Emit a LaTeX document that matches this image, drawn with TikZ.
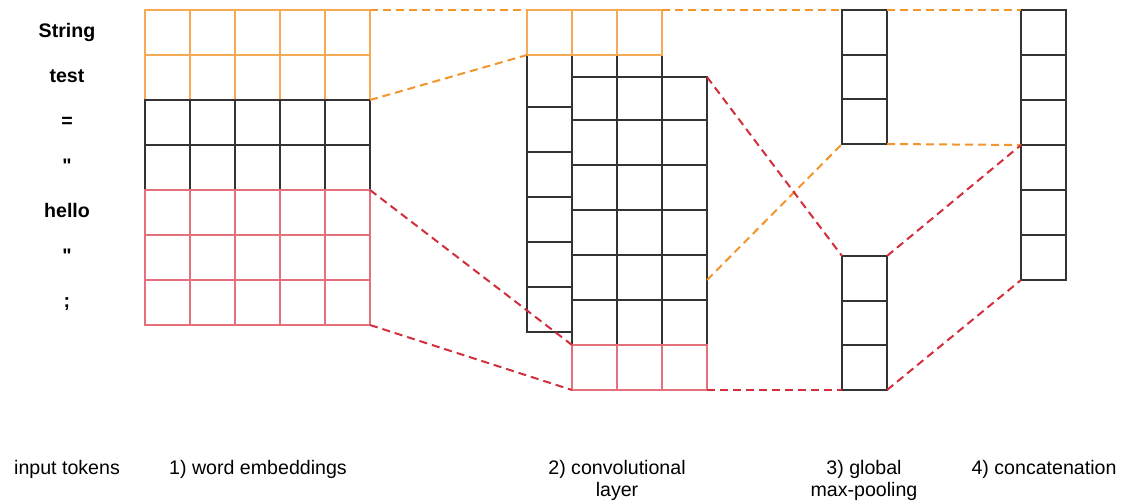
\documentclass[tikz,border=0pt]{standalone}
\usepackage{fontspec}
\setmainfont{Liberation Sans}[Ligatures=TeXOff]
\usetikzlibrary{calc}
\begin{document}
\begin{tikzpicture}[x=1pt,y=-1pt,
  ocell/.style={draw=embOrange,line width=1.2pt},
  rcell/.style={draw=embRed,line width=1.2pt},
  kcell/.style={draw=cellGray,line width=1.3pt},
  blk/.style={inner sep=0pt,outer sep=0pt,minimum width=#1,anchor=north west},
  olink/.style={draw=linkOrange,line width=2pt,dash pattern=on 8pt off 5pt},
  rlink/.style={draw=linkRed,line width=2pt,dash pattern=on 8pt off 5pt},
  token/.style={font=\fontsize{19.6}{23}\selectfont\bfseries,anchor=base},
  caption/.style={font=\fontsize{19.6}{22}\selectfont,align=center,anchor=base}]
\definecolor{embOrange}{HTML}{F6AA55}
\definecolor{embRed}{HTML}{E4707C}
\definecolor{cellGray}{HTML}{333333}
\definecolor{linkOrange}{HTML}{F2952C}
\definecolor{linkRed}{HTML}{D22E3C}
\useasboundingbox (0,0) rectangle (1123,501);

% input tokens
\foreach \t [count=\k from 0] in {String,test,=,",hello,",;}
  \node[token] (tok\k) at (67,{37+45*\k}) {\t};

% word embeddings: 5 x 7 grid
\node[blk=225pt,minimum height=90pt] (embO) at (145,10) {};
\node[blk=225pt,minimum height=90pt] (embK) at (145,100) {};
\node[blk=225pt,minimum height=135pt] (embR) at (145,190) {};
\foreach \i in {0,...,4}
  \foreach \j in {0,1}
    \draw[ocell] ({145+45*\i},{10+45*\j}) rectangle +(45,45);
\foreach \i in {0,...,4}
  \foreach \j in {2,3}
    \draw[kcell] ({145+45*\i},{10+45*\j}) rectangle +(45,45);
\foreach \i in {0,...,4}
  \foreach \j in {4,5,6}
    \draw[rcell] ({145+45*\i},{10+45*\j}) rectangle +(45,45);

% convolutional layer: back sheet, front sheet and highlighted rows
\node[blk=135pt,minimum height=45pt] (convO) at (527,10) {};
\node[blk=135pt,minimum height=276pt] (convK1) at (527,55) {};
\node[blk=135pt,minimum height=268pt] (convK2) at (572,77) {};
\node[blk=135pt,minimum height=45pt] (convR) at (572,345) {};
\draw[kcell] (527,55) rectangle (572,107);
\foreach \y in {107,152,197,242,287}
  \draw[kcell] (527,\y) rectangle (572,\y+45);
\draw[kcell] (572,55) rectangle (617,77);
\draw[kcell] (617,55) rectangle (662,77);
\foreach \i in {0,1,2}
  \draw[ocell] ({527+45*\i},10) rectangle +(45,45);
\foreach \i in {0,1,2} {
  \draw[kcell,fill=white] ({572+45*\i},77) rectangle +(45,43);
  \foreach \j in {0,...,4}
    \draw[kcell,fill=white] ({572+45*\i},{120+45*\j}) rectangle +(45,45);
}
\foreach \i in {0,1,2}
  \draw[rcell] ({572+45*\i},345) rectangle +(45,45);
\coordinate (convTap) at (707,280);

% global max-pooling
\node[blk=45pt,minimum height=134pt] (poolA) at (842,10) {};
\node[blk=45pt,minimum height=134pt] (poolB) at (842,256) {};
\foreach \a/\b in {10/55,55/99,99/144,256/301,301/345,345/390}
  \draw[kcell] (842,\a) rectangle (887,\b);

% concatenation
\node[blk=45pt,minimum height=270pt] (cat) at (1021,10) {};
\foreach \j in {0,...,5}
  \draw[kcell] (1021,{10+45*\j}) rectangle +(45,45);
\coordinate (catMid) at ($(cat.north west)!0.5!(cat.south west)$);

% connectors
\draw[olink] (embO.north east) -- (convO.north west);
\draw[olink] (embO.south east) -- (convO.south west);
\draw[rlink] (embR.north east) -- (convR.north west);
\draw[rlink] (embR.south east) -- (convR.south west);
\draw[olink] (convO.north east) -- (poolA.north west);
\draw[olink] (convTap) -- (poolA.south west);
\draw[rlink] (convK2.north east) -- (poolB.north west);
\draw[rlink] (convR.south east) -- (poolB.south west);
\draw[olink] (poolA.north east) -- (cat.north west);
\draw[olink] (poolA.south east) -- (catMid);
\draw[rlink] (poolB.north east) -- (catMid);
\draw[rlink] (poolB.south east) -- (cat.south west);

% captions
\node[caption] (capTok) at (67,474) {input tokens};
\node[caption] (capEmb) at (258,474) {1) word embeddings};
\node[caption] (capConv) at (617,496) {2) convolutional\\layer};
\node[caption] (capPool) at (864,496) {3) global\\max-pooling};
\node[caption] (capCat) at (1044,474) {4) concatenation};
\end{tikzpicture}
\end{document}
